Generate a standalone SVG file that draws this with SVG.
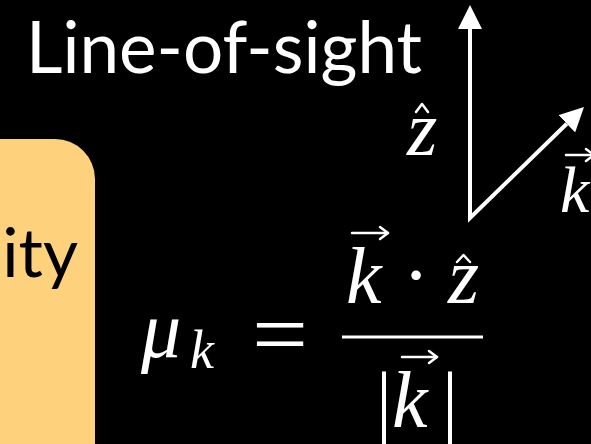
<svg xmlns="http://www.w3.org/2000/svg" width="591" height="444" viewBox="0 0 591 444">
  <defs>
    <style>
      .title { font-family: Lato, "Open Sans", "Liberation Sans", sans-serif; fill: #ffffff; }
      .boxtxt { font-family: Lato, "Open Sans", "Liberation Sans", sans-serif; fill: #000000; }
      .math { font-family: "Liberation Serif", "DejaVu Serif", serif; font-style: italic; fill: #ffffff; }
      .mathup { font-family: "Liberation Serif", "DejaVu Serif", serif; fill: #ffffff; }
      .axis { fill: none; stroke: #ffffff; stroke-width: 4; stroke-linejoin: miter; }
      .acc { fill: none; stroke: #ffffff; stroke-width: 2.5; stroke-linecap: round; stroke-linejoin: round; }
      .rule { stroke: #ffffff; stroke-width: 3; }
    </style>
    <marker id="head" markerUnits="strokeWidth" markerWidth="6" markerHeight="6" refX="0" refY="3" orient="auto-start-reverse">
      <path d="M0,0 L6,3 L0,6 z" fill="#ffffff"/>
    </marker>
  </defs>
  <rect x="0" y="0" width="591" height="444" fill="#000000"/>

  <g id="title">
    <text class="title" x="26" y="73" font-size="71">Line-of-sight</text>
  </g>

  <g id="box">
    <rect x="-60" y="139" width="155" height="360" rx="40" ry="40" fill="#fed27c"/>
    <text class="boxtxt" x="78" y="277" font-size="68" text-anchor="end">ity</text>
  </g>

  <g id="connectors">
    <path class="axis" d="M470,29 L470,218 L566.8,123.8" marker-start="url(#head)" marker-end="url(#head)"/>
  </g>

  <g id="label-z">
    <text class="math" x="407" y="155" font-size="78">z</text>
    <polyline class="acc" points="416,112 422,104 428,112"/>
  </g>

  <g id="label-k">
    <text class="math" x="560" y="212" font-size="66">k</text>
    <line class="acc" x1="566" y1="155" x2="594" y2="155"/>
    <polyline class="acc" points="586,149 594,155 586,161"/>
  </g>

  <g id="formula">
    <text class="math" x="141" y="357" font-size="80">μ</text>
    <text class="math" x="190" y="368" font-size="54">k</text>
    <text class="mathup" x="252" y="365" font-size="90" textLength="56" lengthAdjust="spacingAndGlyphs">=</text>
    <text class="math" x="346" y="303" font-size="80">k</text>
    <line class="acc" x1="352" y1="233" x2="388" y2="233"/>
    <polyline class="acc" points="380,227 388,233 380,239"/>
    <text class="mathup" x="416" y="302" font-size="80" text-anchor="middle">·</text>
    <text class="math" x="448" y="303" font-size="80">z</text>
    <polyline class="acc" points="457,262 463.5,255 470,262"/>
    <line class="rule" x1="342" y1="337" x2="483" y2="337"/>
    <text class="mathup" x="376" y="428" font-size="80">|</text>
    <text class="math" x="392" y="427" font-size="80">k</text>
    <line class="acc" x1="402" y1="357" x2="437" y2="357"/>
    <polyline class="acc" points="429,351 437,357 429,363"/>
    <text class="mathup" x="442" y="428" font-size="80">|</text>
  </g>
</svg>
